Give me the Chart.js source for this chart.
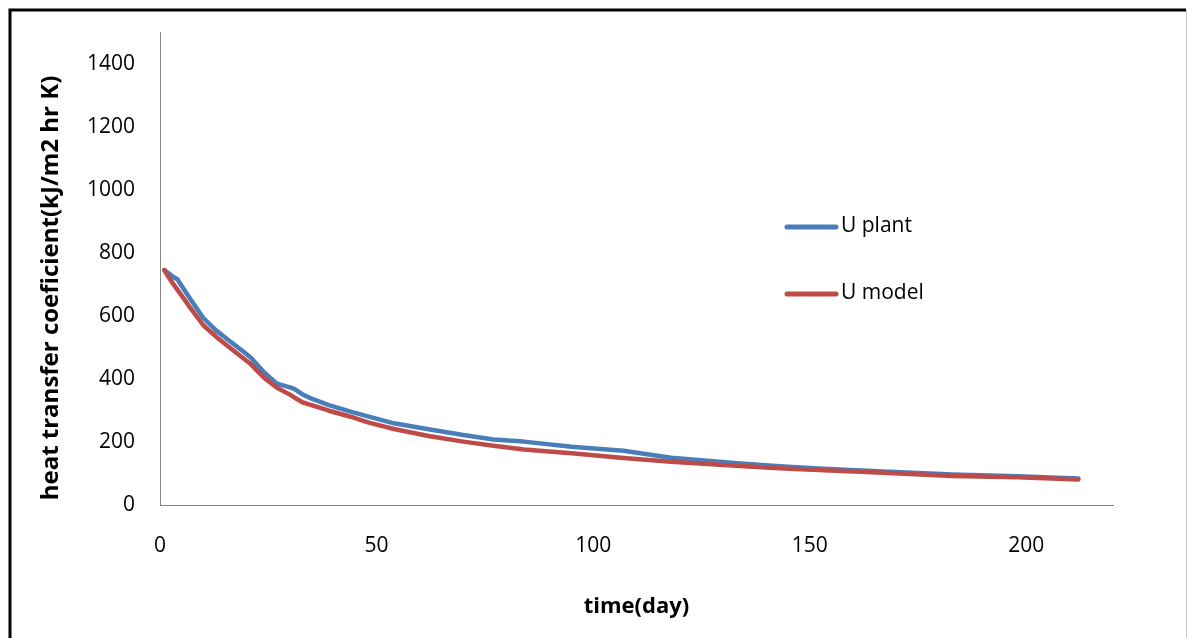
<!DOCTYPE html>
<html>
<head>
<meta charset="utf-8">
<title>heat transfer coefficient</title>
<script src="https://cdn.jsdelivr.net/npm/chart.js@4.4.1/dist/chart.umd.min.js"></script>
<style>
  body { margin: 0; background: #fff; }
  canvas { display: block; }
</style>
</head>
<body>
<canvas id="chart" width="1187" height="638"></canvas>
<script>
// days
var days = [1, 2, 3, 4, 6, 7, 10, 13, 16, 19, 21, 24, 27, 30, 31, 33, 35, 39, 44, 48, 54, 62, 70, 77, 84, 95, 107, 118, 134, 144, 152, 167, 183, 198, 212];
var uPlant = [745, 735, 724, 716, 674, 653, 593, 553, 521, 489, 467, 421, 385, 373, 368, 350, 337, 317, 296, 281, 259, 240, 222, 208, 201, 185, 172, 150, 132, 122, 116, 106, 97, 91, 84];
var uModel = [745, 722, 702, 683, 645, 625, 570, 533, 500, 468, 446, 404, 372, 350, 341, 325, 317, 299, 280, 262, 241, 219, 201, 188, 176, 164, 149, 137, 124, 116, 111, 102, 92, 88, 81];
var xTicks = [0, 50, 100, 150, 200];
var yTicks = [0, 200, 400, 600, 800, 1000, 1200, 1400];
var yTitle = 'heat transfer coeficient(kJ/m2 hr K)';

var FONT = "'Open Sans', sans-serif";

function points(ys) {
  return days.map(function(d, i) { return {x: d, y: ys[i]}; });
}

// legend drawn at the right, inside the plot, like the original
var sideLegend = {
  id: 'sideLegend',
  afterDatasetsDraw: function(chart) {
    var ctx = chart.ctx;
    var rows = [227, 294];
    ctx.save();
    chart.data.datasets.forEach(function(ds, i) {
      var y = rows[i];
      ctx.strokeStyle = ds.borderColor;
      ctx.lineWidth = 5;
      ctx.lineCap = 'round';
      ctx.beginPath();
      ctx.moveTo(787, y);
      ctx.lineTo(836, y);
      ctx.stroke();
      ctx.fillStyle = '#000';
      ctx.font = '21px ' + FONT;
      ctx.textBaseline = 'middle';
      ctx.fillText(ds.label, 841, y - 1);
    });
    ctx.restore();
  }
};

// y title sits a bit lower than the middle of the axis in the original
var sideTitle = {
  id: 'sideTitle',
  afterDraw: function(chart) {
    var ctx = chart.ctx;
    ctx.save();
    ctx.translate(51, 288);
    ctx.rotate(-Math.PI / 2);
    ctx.fillStyle = '#000';
    ctx.font = 'bold 24px ' + FONT;
    ctx.textAlign = 'center';
    ctx.textBaseline = 'middle';
    ctx.fillText(yTitle, 0, 0);
    ctx.restore();
  }
};

// frame round the picture
var frame = {
  id: 'frame',
  afterDraw: function(chart) {
    var ctx = chart.ctx;
    ctx.save();
    ctx.strokeStyle = '#000';
    ctx.lineWidth = 3;
    ctx.beginPath();
    ctx.moveTo(10, 660);
    ctx.lineTo(10, 10);
    ctx.lineTo(1186, 10);
    ctx.stroke();
    ctx.strokeStyle = '#c8c8c8';
    ctx.lineWidth = 1;
    ctx.beginPath();
    ctx.moveTo(1186.5, 10);
    ctx.lineTo(1186.5, 638);
    ctx.stroke();
    ctx.restore();
  }
};

function plain(v) { return String(v); }

var ctx = document.getElementById('chart').getContext('2d');
var chart = new Chart(ctx, {
  type: 'line',
  data: {
    datasets: [{
      label: 'U plant',
      data: points(uPlant),
      borderColor: '#4A7EBB',
      borderWidth: 4.5,
      pointRadius: 0,
      tension: 0,
      borderCapStyle: 'round',
      borderJoinStyle: 'round',
      order: 1
    }, {
      label: 'U model',
      data: points(uModel),
      borderColor: '#BE4B48',
      borderWidth: 4.5,
      pointRadius: 0,
      tension: 0,
      borderCapStyle: 'round',
      borderJoinStyle: 'round',
      order: 0
    }]
  },
  options: {
    responsive: false,
    animation: false,
    layout: { padding: { left: 0, top: 32, right: 74, bottom: 0 } },
    plugins: {
      legend: { display: false },
      tooltip: { enabled: false }
    },
    scales: {
      x: {
        type: 'linear',
        min: 0,
        max: 220,
        grid: { display: false, drawTicks: false },
        border: { display: true, color: '#868686', width: 1 },
        ticks: { stepSize: 50, padding: 28, color: '#000', font: { family: FONT, size: 21 }, callback: plain },
        afterBuildTicks: function(scale) {
          scale.ticks = xTicks.map(function(v) { return {value: v}; });
        },
        afterFit: function(scale) {
          scale.height = 133;
          scale.paddingLeft = 0;
          scale.paddingRight = 0;
        },
        title: {
          display: true,
          text: 'time(day)',
          color: '#000',
          font: { family: FONT, size: 22, weight: 'bold' },
          padding: { top: 0, bottom: 18 }
        }
      },
      y: {
        min: 0,
        max: 1500,
        grid: { display: false, drawTicks: false },
        border: { display: true, color: '#868686', width: 1 },
        ticks: { stepSize: 200, padding: 25, color: '#000', font: { family: FONT, size: 21 }, callback: plain },
        afterBuildTicks: function(scale) {
          scale.ticks = yTicks.map(function(v) { return {value: v}; });
        },
        afterFit: function(scale) {
          scale.width = 160;
          scale.paddingTop = 0;
          scale.paddingBottom = 0;
        }
      }
    }
  },
  plugins: [sideLegend, sideTitle, frame]
});
</script>
</body>
</html>
